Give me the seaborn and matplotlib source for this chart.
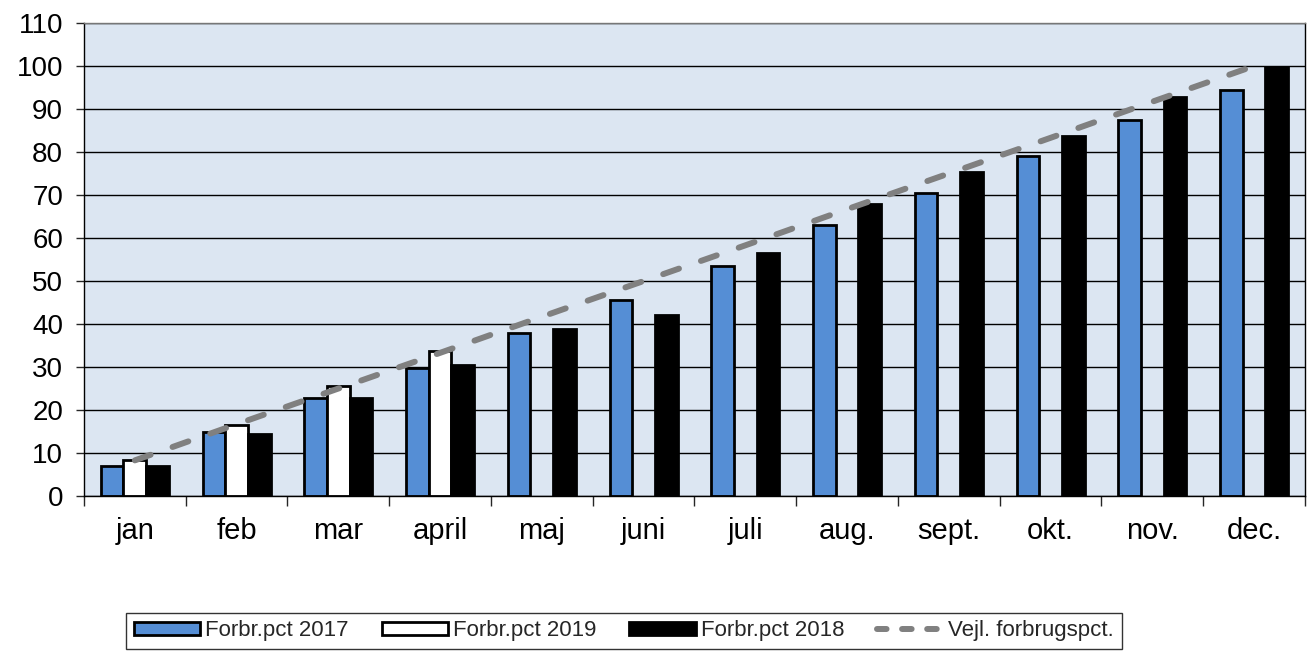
import numpy as np
import pandas as pd
import matplotlib
matplotlib.use("Agg")
import matplotlib.pyplot as plt
import seaborn as sns
from matplotlib.patches import Patch
from matplotlib.lines import Line2D

# --- data ---
months = ["jan", "feb", "mar", "april", "maj", "juni", "juli", "aug.",
          "sept.", "okt.", "nov.", "dec."]
pct_2017 = [7.0, 14.9, 22.9, 29.8, 37.8, 45.7, 53.5, 63.0, 70.5, 79.0, 87.5, 94.5]
pct_2019 = [8.5, 16.6, 25.6, 33.8, np.nan, np.nan, np.nan, np.nan,
            np.nan, np.nan, np.nan, np.nan]
pct_2018 = [7.1, 14.4, 22.9, 30.5, 38.8, 42.2, 56.6, 67.8, 75.3, 83.7, 92.8, 99.7]
guide = [8.3, 16.7, 25.0, 33.3, 41.7, 50.0, 58.3, 66.7, 75.0, 83.3, 91.7, 100.0]

series = ["Forbr.pct 2017", "Forbr.pct 2019", "Forbr.pct 2018"]
colors = ["#558ed5", "#ffffff", "#000000"]

df = pd.DataFrame({"month": months * 3,
                   "serie": np.repeat(series, len(months)),
                   "value": pct_2017 + pct_2019 + pct_2018})

sns.set_style("white")
plt.rcParams["font.family"] = ["Liberation Sans", "DejaVu Sans"]

fig = plt.figure(figsize=(13.08, 6.51), dpi=100)
ax = fig.add_axes([0.0642, 0.238, 0.9335, 0.7267])
ax.set_facecolor("#dce6f2")

sns.barplot(data=df, x="month", y="value", hue="serie", hue_order=series,
            palette=colors, order=months, width=0.67, edgecolor="black",
            linewidth=2.0, saturation=1, errorbar=None, legend=False, ax=ax)

# guideline (dashed, round caps like the original)
ax.plot(np.arange(len(months)), guide, color="#808080", lw=4.3,
        dashes=(2.8, 3.9), dash_capstyle="round", zorder=4)

ax.set_ylim(0, 110)
ax.set_yticks(range(0, 111, 10))
ax.set_xlim(-0.5, len(months) - 0.5)
ax.yaxis.grid(True, color="black", lw=1)
ax.set_axisbelow(True)
ax.set_xlabel("")
ax.set_ylabel("")
for s in ax.spines.values():
    s.set_color("black")
    s.set_linewidth(1)
ax.spines["top"].set_color("#777777")

ax.tick_params(axis="y", labelsize=20, length=6, width=1, direction="out",
               left=True, pad=9, labelcolor="black")
ax.tick_params(axis="x", which="major", labelsize=21, length=0, pad=15,
               labelcolor="black")
ax.set_xticks(np.arange(-0.5, len(months), 1), minor=True)
ax.tick_params(axis="x", which="minor", length=7, width=1, bottom=True,
               direction="out")

handles = [Patch(facecolor=c, edgecolor="black", lw=2.0) for c in colors]
handles.append(Line2D([0], [0], color="#808080", lw=4.3, dashes=(1.6, 2.6),
                      dash_capstyle="round"))
leg = fig.legend(handles, series + ["Vejl. forbrugspct."], ncol=4,
                 loc="center", bbox_to_anchor=(0.477, 0.031), fontsize=16,
                 frameon=True, fancybox=False, edgecolor="black",
                 handlelength=3.0, handleheight=0.55, handletextpad=0.2,
                 columnspacing=1.5, borderpad=0.35)
leg.get_frame().set_linewidth(1)

fig.savefig("out.png", dpi=100)
plt.close(fig)
